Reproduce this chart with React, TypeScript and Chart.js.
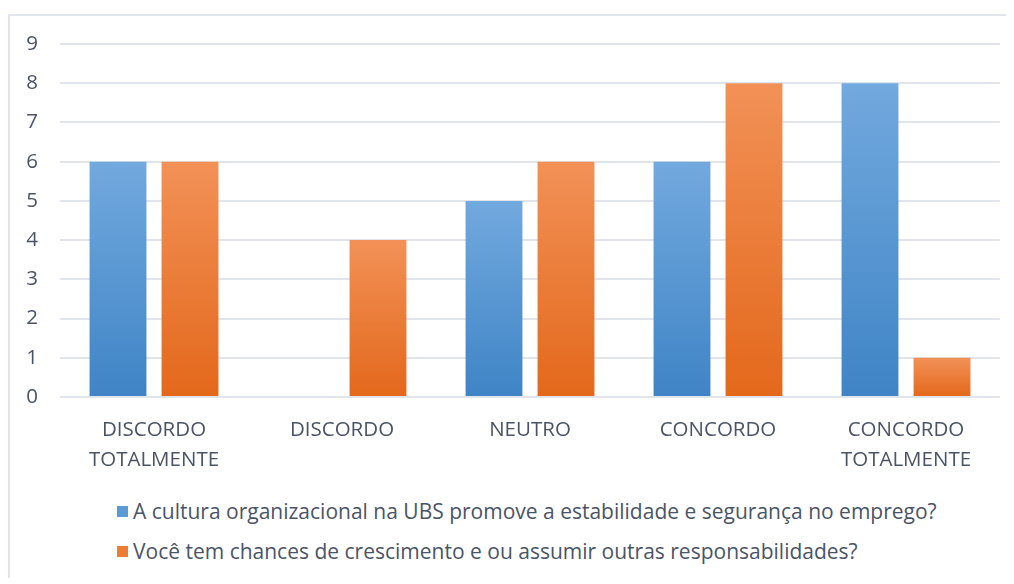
import React, { useEffect, useRef } from "react";
import { Chart, registerables } from "chart.js";

Chart.register(...registerables);

const categories: string[][] = [
  ["DISCORDO", "TOTALMENTE"],
  ["DISCORDO"],
  ["NEUTRO"],
  ["CONCORDO"],
  ["CONCORDO", "TOTALMENTE"],
];
const seriesNames = [
  "A cultura organizacional na UBS promove a estabilidade e segurança no emprego?",
  "Você tem chances de crescimento e ou assumir outras responsabilidades?",
];
const seriesA = [6, 0, 5, 6, 8];
const seriesB = [6, 4, 6, 8, 1];
const yTicks = [0, 1, 2, 3, 4, 5, 6, 7, 8, 9];

const FONT = "'Open Sans', sans-serif";
const TEXT = "#4a5466";
const GRID = "#e1e4ea";

const palettes = [
  { solid: "#5b9bd5", top: "#72a9de", bottom: "#3f84c6" },
  { solid: "#ed7d31", top: "#f29157", bottom: "#e3681b" },
];

function gradientFor(idx: number) {
  return (ctx: any) => {
    const p = palettes[idx];
    const chart = ctx.chart;
    const y = chart.scales && chart.scales.y;
    if (!y || ctx.type !== "data") return p.solid;
    const v = ctx.raw as number;
    const top = y.getPixelForValue(v);
    const bottom = y.getPixelForValue(0);
    if (!isFinite(top) || !isFinite(bottom) || Math.abs(bottom - top) < 1) return p.solid;
    const g = chart.ctx.createLinearGradient(0, top, 0, bottom);
    g.addColorStop(0, p.top);
    g.addColorStop(1, p.bottom);
    return g;
  };
}

export default function App() {
  const ref = useRef<HTMLCanvasElement | null>(null);

  useEffect(() => {
    if (!ref.current) return;
    const chart = new Chart(ref.current, {
      type: "bar",
      data: {
        labels: categories,
        datasets: [
          {
            label: seriesNames[0],
            data: seriesA,
            backgroundColor: gradientFor(0),
            categoryPercentage: 0.766,
            barPercentage: 0.79,
          },
          {
            label: seriesNames[1],
            data: seriesB,
            backgroundColor: gradientFor(1),
            categoryPercentage: 0.766,
            barPercentage: 0.79,
          },
        ],
      },
      options: {
        animation: false,
        responsive: false,
        maintainAspectRatio: false,
        layout: { padding: { top: 36, right: 14, bottom: 0, left: 0 } },
        plugins: { legend: { display: false }, tooltip: { enabled: false } },
        scales: {
          x: {
            grid: { display: false, drawTicks: false },
            border: { display: false },
            ticks: {
              color: TEXT,
              font: { family: FONT, size: 20.5, lineHeight: "30px" as any },
              padding: 18,
              maxRotation: 0,
              autoSkip: false,
            },
            afterFit: (s: any) => {
              s.height = 91;
            },
          },
          y: {
            min: 0,
            max: 9,
            afterBuildTicks: (s: any) => {
              s.ticks = yTicks.map((v) => ({ value: v }));
            },
            grid: { color: GRID, lineWidth: 2, drawTicks: false },
            border: { display: false },
            ticks: {
              color: TEXT,
              font: { family: FONT, size: 20.5 },
              padding: 22,
            },
            afterFit: (s: any) => {
              s.width = 52;
            },
          },
        },
      },
    });
    return () => chart.destroy();
  }, []);

  return (
    <div style={{ position: "relative", width: 1006, height: 570, overflow: "hidden" }}>
      <div
        style={{
          position: "absolute",
          left: 0,
          top: 6,
          width: 1100,
          height: 700,
          borderTop: `2px solid ${GRID}`,
          borderLeft: `2px solid ${GRID}`,
          boxSizing: "border-box",
        }}
      />
      <canvas
        ref={ref}
        width={1006}
        height={480}
        style={{ position: "absolute", left: 0, top: 0, width: 1006, height: 480 }}
      />
      <div
        style={{
          position: "absolute",
          left: 109,
          top: 483,
          fontFamily: FONT,
          fontSize: 21,
          color: TEXT,
          lineHeight: "40px",
          whiteSpace: "nowrap",
        }}
      >
        {seriesNames.map((n, i) => (
          <div key={i} style={{ display: "flex", alignItems: "center" }}>
            <span
              style={{
                display: "inline-block",
                width: 11,
                height: 11,
                background: palettes[i].solid,
                marginRight: 5,
              }}
            />
            <span>{n}</span>
          </div>
        ))}
      </div>
    </div>
  );
}
